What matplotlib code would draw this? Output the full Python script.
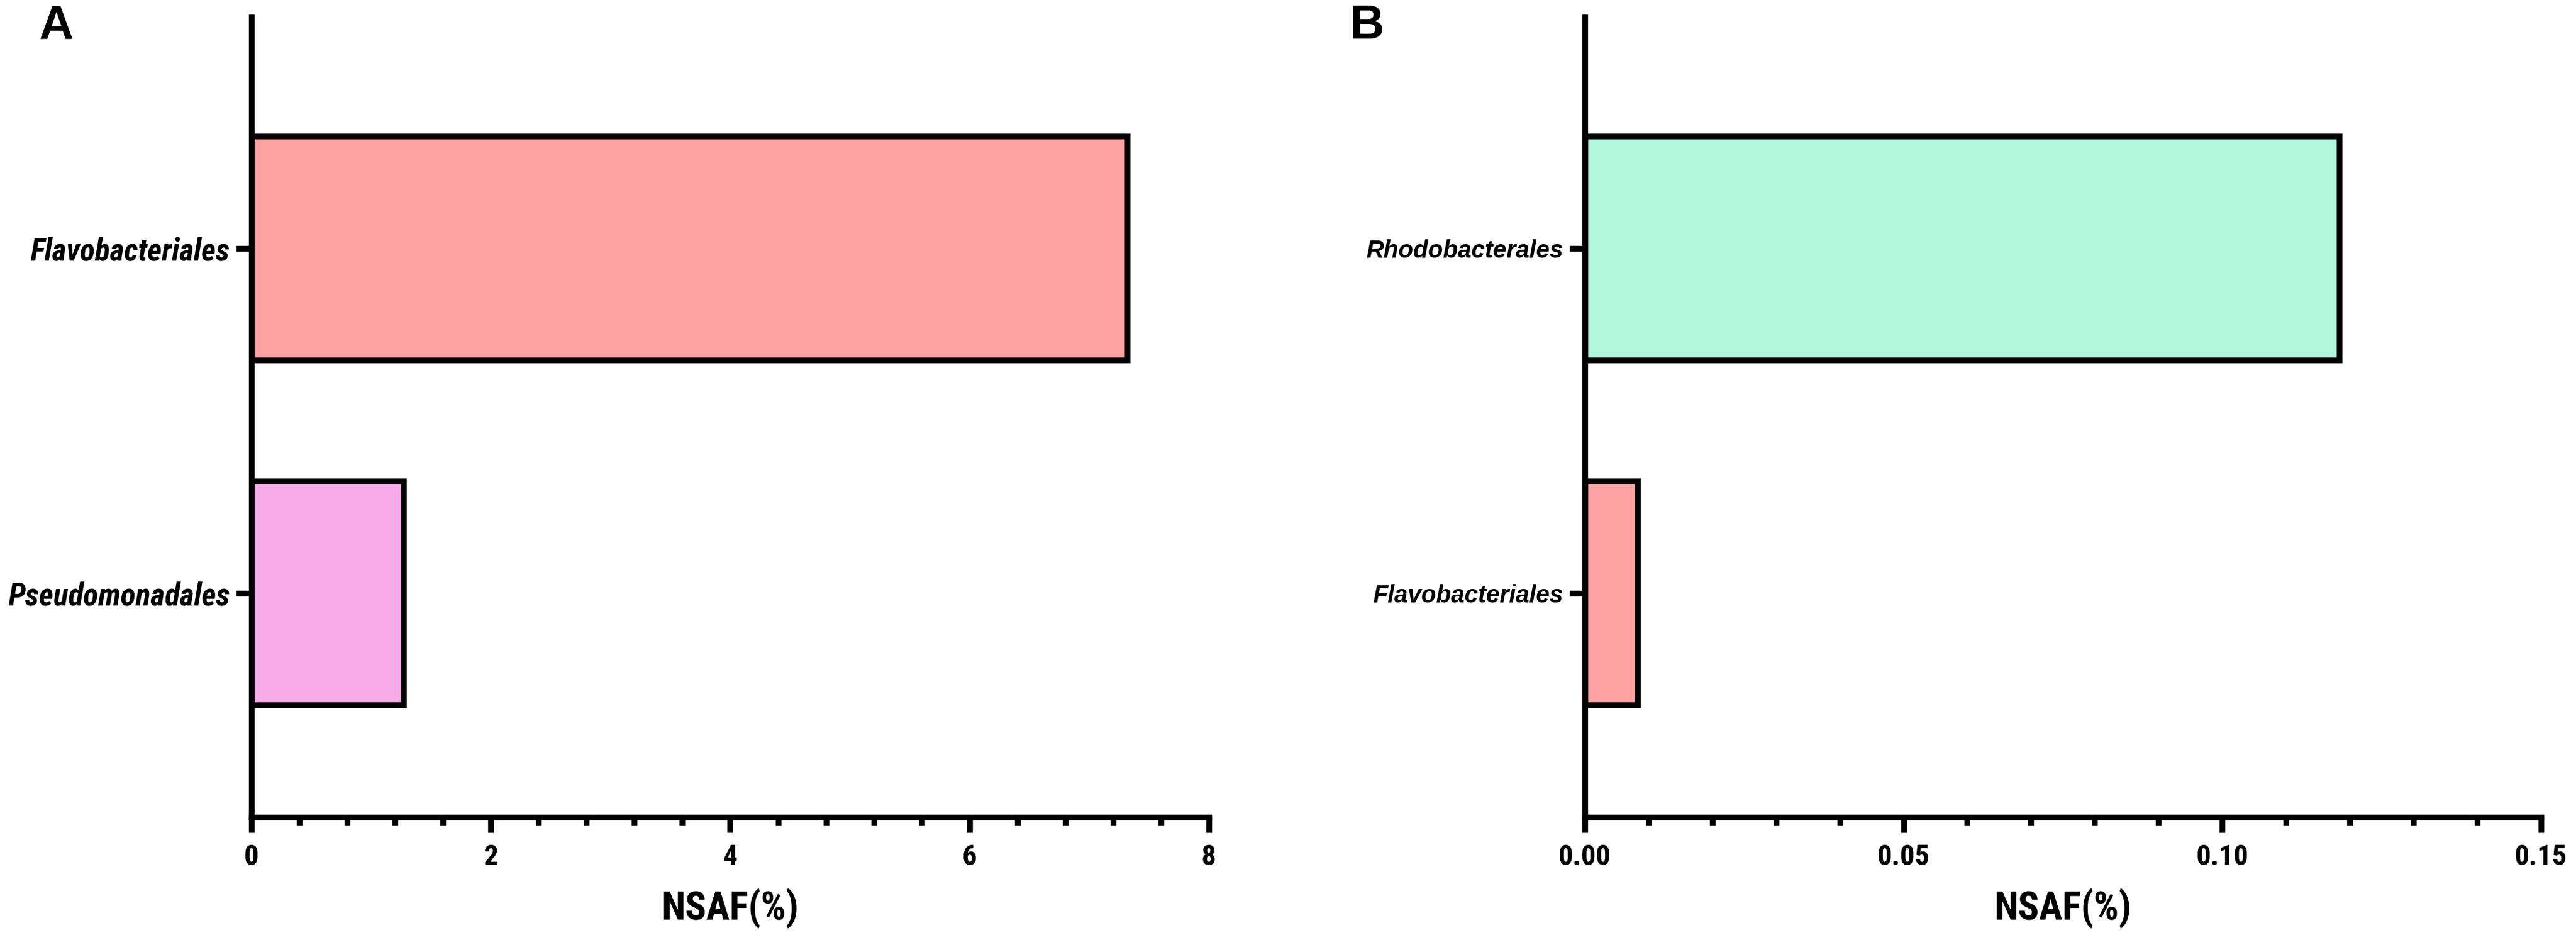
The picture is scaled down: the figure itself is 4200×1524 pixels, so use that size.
import matplotlib
matplotlib.use('Agg')
import matplotlib.pyplot as plt
from matplotlib import font_manager
from matplotlib.font_manager import FontProperties
from matplotlib.ticker import MultipleLocator

# ---- data ----
cats_a = ['Pseudomonadales', 'Flavobacteriales']
vals_a = [1.27, 7.32]
cols_a = ['#F5ABE7', '#FCA2A2']

cats_b = ['Flavobacteriales', 'Rhodobacterales']
vals_b = [0.0083, 0.1184]
cols_b = ['#FCA2A2', '#B4F6DD']


# ---- fonts: look for a condensed face (GraphPad figure uses Arial Narrow) ----
def is_narrow(f):
    s = (f.name + ' ' + f.fname).lower()
    if 'semi' in s or 'extra' in s or 'ultra' in s:
        return False
    return 'narrow' in s or 'condensed' in s or str(f.stretch) == 'condensed'


def weight_num(w):
    try:
        return int(w)
    except (TypeError, ValueError):
        return {'bold': 700, 'normal': 400, 'regular': 400}.get(str(w), 400)


def find_font(italic):
    pref = ['liberation sans narrow', 'roboto condensed', 'noto sans',
            'open sans', 'dejavu sans', 'lato', 'inter']
    best = None
    for f in font_manager.fontManager.ttflist:
        if not is_narrow(f):
            continue
        if weight_num(f.weight) < 600:
            continue
        if (f.style != 'normal') != italic:
            continue
        rank = len(pref)
        for i, p in enumerate(pref):
            if f.name.lower().startswith(p):
                rank = i
                break
        if best is None or rank < best[0]:
            best = (rank, f.fname)
    return best[1] if best else None


nb = find_font(False)
nbi = find_font(True)


def narrow_bold(size):
    if nb:
        return FontProperties(fname=nb, size=size)
    return FontProperties(family='Roboto', weight='bold', size=size)


def narrow_bold_italic(size):
    if nbi:
        return FontProperties(fname=nbi, size=size)
    return FontProperties(family='Roboto', weight='bold', style='italic', size=size)


def wide_bold_italic(size):
    return FontProperties(family=['Liberation Sans', 'DejaVu Sans'], weight='bold',
                          style='italic', size=size)


LW = 6.8

fig = plt.figure(figsize=(42, 15.24), dpi=100)
ax_a = fig.add_axes([0.0976, 0.126, 0.3717, 0.8556])
ax_b = fig.add_axes([0.6152, 0.126, 0.3712, 0.8556])


def style(ax, cats, vals, cols, xmax, major, minor, fmt, cat_fp):
    ax.barh(range(len(cats)), vals, height=0.65, color=cols,
            edgecolor='black', linewidth=LW, zorder=2)
    ax.set_ylim(-0.65, 1.67)
    ax.set_xlim(0, xmax)
    for s in ['top', 'right']:
        ax.spines[s].set_visible(False)
    for s in ['left', 'bottom']:
        ax.spines[s].set_linewidth(LW)
        ax.spines[s].set_zorder(3)
    n = int(round(xmax / major)) + 1
    ax.set_xticks([i * major for i in range(n)])
    ax.xaxis.set_minor_locator(MultipleLocator(minor))
    ax.set_xticklabels([fmt.format(i * major) for i in range(n)],
                       fontproperties=narrow_bold(34))
    ax.tick_params(axis='x', which='major', length=18, width=LW, pad=13)
    ax.tick_params(axis='x', which='minor', length=9, width=LW)
    ax.set_yticks(range(len(cats)))
    ax.set_yticklabels(cats, fontproperties=cat_fp)
    ax.tick_params(axis='y', length=18, width=LW, pad=7)
    ax.set_xlabel('NSAF(%)', fontproperties=narrow_bold(46), labelpad=20)


style(ax_a, cats_a, vals_a, cols_a, 8, 2, 0.4, '{:.0f}', narrow_bold_italic(36.5))
style(ax_b, cats_b, vals_b, cols_b, 0.15, 0.05, 0.01, '{:.2f}', wide_bold_italic(28.5))

fig.text(0.015, 0.972, 'A', fontsize=56, fontweight='bold',
         family=['Liberation Sans', 'DejaVu Sans'], va='center', ha='left')
fig.text(0.524, 0.972, 'B', fontsize=56, fontweight='bold',
         family=['Liberation Sans', 'DejaVu Sans'], va='center', ha='left')

fig.savefig('out.png', dpi=100, facecolor='white')
